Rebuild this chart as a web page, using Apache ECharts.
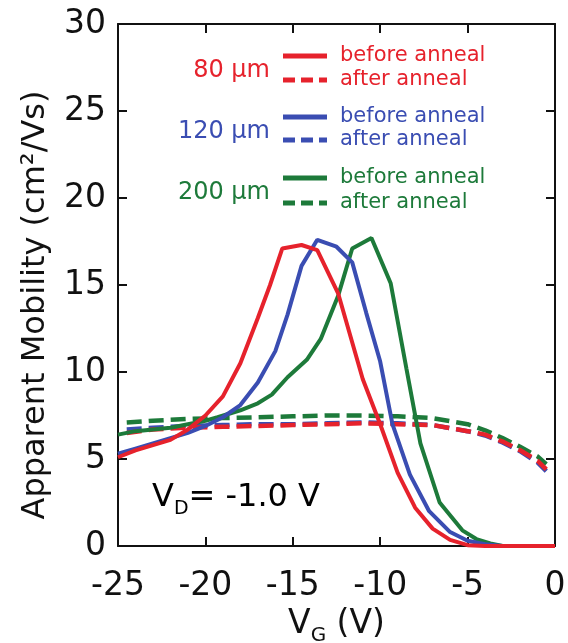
<!DOCTYPE html>
<html><head><meta charset="utf-8">
<script src="https://cdn.jsdelivr.net/npm/echarts@6/dist/echarts.min.js"></script>
<style>html,body{margin:0;padding:0;background:#fff}#c{width:568px;height:643px}</style>
</head><body><div id="c"></div>
<script>
// ---- data ----
const xTicks = [-25, -20, -15, -10, -5, 0];
const yTicks = [0, 5, 10, 15, 20, 25, 30];

const red80BeforeX = [-25,-24,-23,-22,-21,-20,-19,-18,-17,-16.3,-15.6,-14.5,-13.6,-12.4,-11,-10,-9,-8,-7,-6,-5,-4,-3,-2,-1,0];
const red80BeforeY = [5.1,5.5,5.8,6.1,6.7,7.5,8.6,10.5,13.1,15.0,17.1,17.3,17.0,14.5,9.6,7.0,4.2,2.2,1.0,0.35,0.05,0,0,0,0,0];

const blue120BeforeX = [-25,-24,-23,-22,-21,-20,-19,-18,-17,-16,-15.3,-14.5,-13.6,-12.5,-11.6,-10.8,-10,-9.3,-8.3,-7.2,-6,-5,-4,-3,-2,-1,0];
const blue120BeforeY = [5.3,5.6,5.9,6.2,6.5,6.9,7.4,8.1,9.4,11.2,13.3,16.1,17.6,17.2,16.3,13.4,10.6,7.0,4.1,2.0,0.8,0.3,0.1,0,0,0,0];

const green200BeforeX = [-25,-24,-23,-22,-21,-20,-19.3,-18,-17,-16.2,-15.3,-14.2,-13.4,-12.4,-11.6,-10.5,-9.4,-8.5,-7.7,-6.6,-5.3,-4.5,-3.7,-3,-2,-1,0];
const green200BeforeY = [6.4,6.6,6.7,6.8,7.0,7.2,7.4,7.8,8.2,8.7,9.7,10.7,11.9,14.4,17.1,17.7,15.1,10.2,5.9,2.5,0.9,0.4,0.15,0,0,0,0];

const afterX = [-24.5,-23,-21,-19,-17,-15,-13,-11,-9,-7,-5,-4,-3,-2,-1,-0.5];
const red80AfterY   = [6.5,6.7,6.8,6.85,6.9,6.95,7.0,7.05,7.0,6.95,6.6,6.4,6.0,5.5,4.9,4.4];
const blue120AfterY = [6.7,6.8,6.9,6.95,7.0,7.0,7.05,7.1,7.05,6.95,6.6,6.35,5.95,5.45,4.8,4.3];
const green200AfterY= [7.1,7.2,7.3,7.35,7.4,7.45,7.5,7.5,7.45,7.35,7.0,6.65,6.2,5.7,5.15,4.7];

const RED = '#e6222c', BLUE = '#3a4db2', GREEN = '#1d7a3a';
const FONT = 'DejaVu Sans';

function zip(xs, ys) { return xs.map((x, i) => [x, ys[i]]); }

const chart = echarts.init(document.getElementById('c'), null, {renderer: 'canvas'});

const axisLine = {show: true, onZero: false, lineStyle: {color: '#111', width: 2}};
const axisTick = {show: true, inside: true, length: 9, lineStyle: {color: '#111', width: 2}};

function solid(color, data) {
  return {type: 'line', data, showSymbol: false, symbol: 'none', smooth: false,
    lineStyle: {color, width: 4}, itemStyle: {color}, silent: true, z: 3};
}
function dashed(color, data) {
  return {type: 'line', data, showSymbol: false, symbol: 'none', smooth: false,
    lineStyle: {color, width: 4.5, type: [15, 7]}, itemStyle: {color}, silent: true, z: 2};
}

const legendRows = [
  {label: '80 µm', color: RED, ySolid: 56, yDash: 80, yLabel: 71},
  {label: '120 µm', color: BLUE, ySolid: 117, yDash: 140, yLabel: 132},
  {label: '200 µm', color: GREEN, ySolid: 178, yDash: 203, yLabel: 193}
];
const graphics = [];
legendRows.forEach(r => {
  graphics.push({type: 'text', x: 270, y: r.yLabel, style: {text: r.label, fill: r.color,
    font: '24px "' + FONT + '"', align: 'right', verticalAlign: 'middle'}});
  graphics.push({type: 'line', shape: {x1: 283, y1: r.ySolid, x2: 327, y2: r.ySolid},
    style: {stroke: r.color, lineWidth: 5}});
  graphics.push({type: 'line', shape: {x1: 283, y1: r.yDash, x2: 327, y2: r.yDash},
    style: {stroke: r.color, lineWidth: 5, lineDash: [12, 6]}});
  graphics.push({type: 'text', x: 340, y: r.ySolid, style: {text: 'before anneal', fill: r.color,
    font: '21px "' + FONT + '"', align: 'left', verticalAlign: 'middle'}});
  graphics.push({type: 'text', x: 340, y: r.yDash, style: {text: 'after anneal', fill: r.color,
    font: '21px "' + FONT + '"', align: 'left', verticalAlign: 'middle'}});
});
graphics.push({type: 'text', x: 152, y: 477, style: {
  text: '{b|V}{s|D}{b|= -1.0 V}',
  rich: {
    b: {fontFamily: FONT, fontSize: 32, lineHeight: 42, verticalAlign: 'middle', color: '#111'},
    s: {fontFamily: FONT, fontSize: 19, lineHeight: 42, verticalAlign: 'bottom', color: '#111'}
  }
}});

const option = {
  animation: false,
  backgroundColor: '#fff',
  grid: {left: 118, right: 13, top: 24, bottom: 97, containLabel: false, outerBoundsMode: 'none'},
  xAxis: [
    {type: 'value', min: -25, max: 0, interval: 5, position: 'bottom',
      axisLine, axisTick, splitLine: {show: false},
      axisLabel: {fontFamily: FONT, fontSize: 33, color: '#111', margin: 24,
        formatter: v => xTicks.includes(v) ? String(v) : ''},
      name: '{b|V}{s|G}{b| (V)}', nameLocation: 'middle', nameGap: 55,
      nameTextStyle: {rich: {
        b: {fontFamily: FONT, fontSize: 33, lineHeight: 42, verticalAlign: 'middle', color: '#111'},
        s: {fontFamily: FONT, fontSize: 20, lineHeight: 42, verticalAlign: 'bottom', color: '#111'}
      }}},
    {type: 'value', min: -25, max: 0, interval: 5, position: 'top',
      axisLine, axisTick, splitLine: {show: false}, axisLabel: {show: false}}
  ],
  yAxis: [
    {type: 'value', min: 0, max: 30, interval: 5, position: 'left',
      axisLine, axisTick, splitLine: {show: false},
      axisLabel: {fontFamily: FONT, fontSize: 33, color: '#111', margin: 12,
        formatter: v => yTicks.includes(v) ? String(v) : ''},
      name: 'Apparent Mobility (cm²/Vs)', nameLocation: 'middle', nameGap: 66, nameRotate: 90,
      nameTextStyle: {fontFamily: FONT, fontSize: 32, color: '#111', padding: [0, 40, 0, 0]}},
    {type: 'value', min: 0, max: 30, interval: 5, position: 'right',
      axisLine, axisTick, splitLine: {show: false}, axisLabel: {show: false}}
  ],
  series: [
    dashed(GREEN, zip(afterX, green200AfterY)),
    dashed(BLUE, zip(afterX, blue120AfterY)),
    dashed(RED, zip(afterX, red80AfterY)),
    solid(GREEN, zip(green200BeforeX, green200BeforeY)),
    solid(BLUE, zip(blue120BeforeX, blue120BeforeY)),
    solid(RED, zip(red80BeforeX, red80BeforeY))
  ],
  graphic: graphics
};
chart.setOption(option);
</script></body></html>
